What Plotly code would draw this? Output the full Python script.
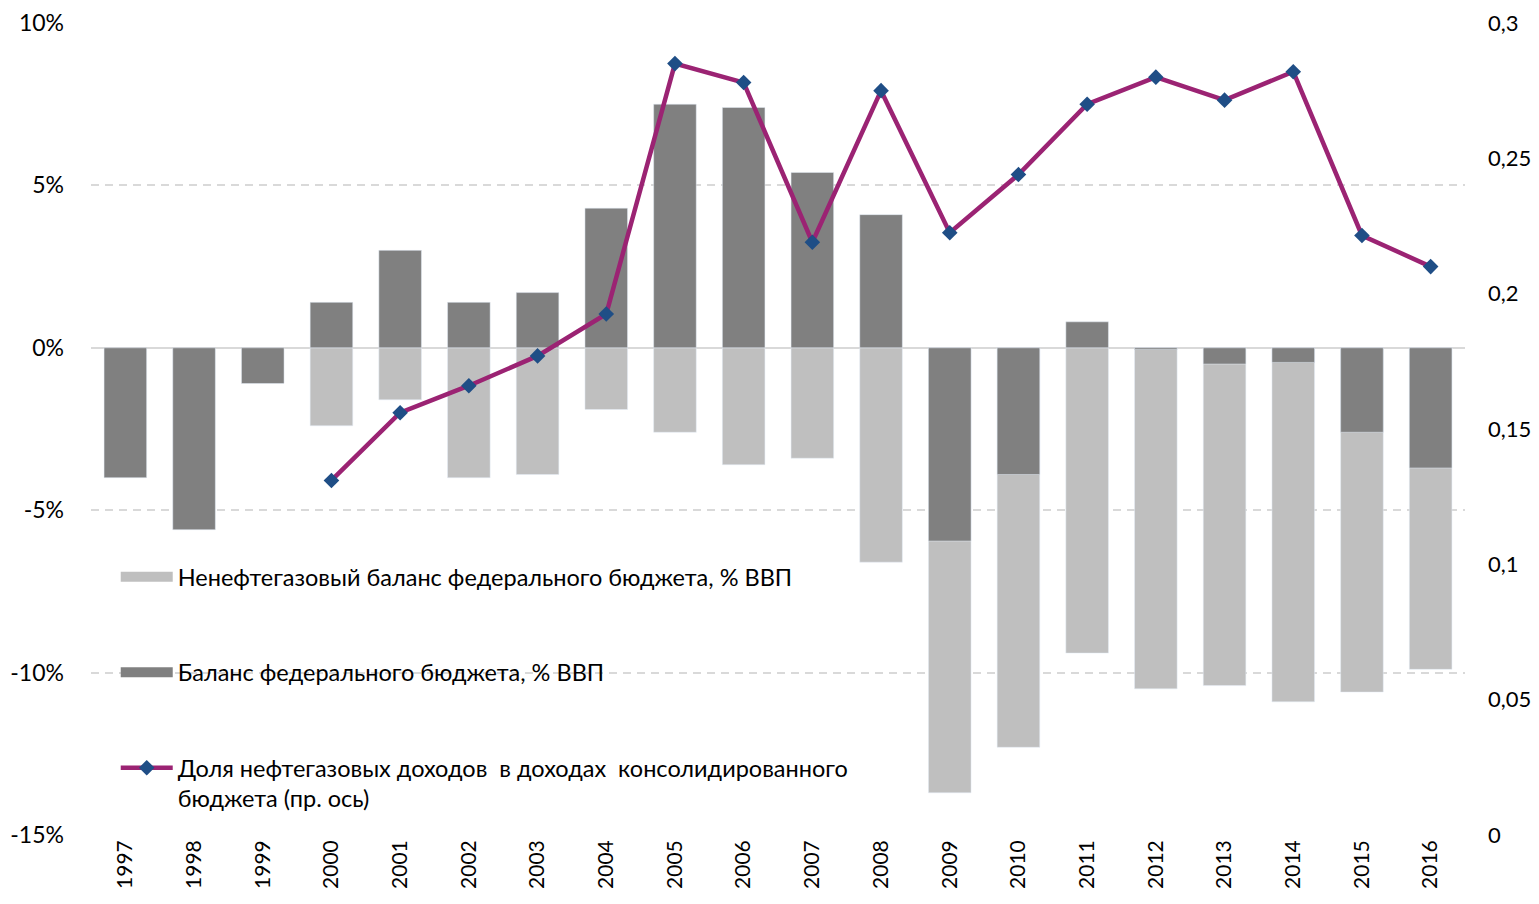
import plotly.graph_objects as go

years = [str(y) for y in range(1997, 2017)]
nonoil_balance = [None, None, None, -2.4, -1.6, -4.0, -3.9, -1.9, -2.6, -3.6,
                  -3.4, -6.6, -13.7, -12.3, -9.4, -10.5, -10.4, -10.9, -10.6, -9.9]
fed_balance = [-4.0, -5.6, -1.1, 1.4, 3.0, 1.4, 1.7, 4.3, 7.5, 7.4,
               5.4, 4.1, -5.95, -3.9, 0.8, -0.05, -0.5, -0.45, -2.6, -3.7]
oilgas_share = [None, None, None, 0.131, 0.156, 0.166, 0.177, 0.1925, 0.285, 0.278,
                0.219, 0.275, 0.2225, 0.244, 0.270, 0.280, 0.2715, 0.282, 0.2215, 0.210]

name_nonoil = "Ненефтегазовый баланс федерального бюджета, % ВВП"
name_fed = "Баланс федерального бюджета, % ВВП"
name_share = "Доля нефтегазовых доходов  в доходах  консолидированного<br>бюджета (пр. ось)"

left_ticks = [10, 5, 0, -5, -10, -15]
left_text = ["10%", "5%", "0%", "-5%", "-10%", "-15%"]
right_ticks = [0.3, 0.25, 0.2, 0.15, 0.1, 0.05, 0]
right_text = ["0,3", "0,25", "0,2", "0,15", "0,1", "0,05", "0"]

LIGHT = "#BFBFBF"
DARK = "#808080"
LINE = "#9B2373"
MARK = "#1F4E86"
FONT = "Lato"

fig = go.Figure()
fig.add_trace(go.Bar(x=years, y=nonoil_balance, marker_color=LIGHT, width=0.62,
                     showlegend=False, name=name_nonoil))
fig.add_trace(go.Bar(x=years, y=fed_balance, marker_color=DARK, width=0.62,
                     showlegend=False, name=name_fed))
fig.add_trace(go.Scatter(x=years, y=oilgas_share, yaxis="y2", mode="lines+markers",
                         line=dict(color=LINE, width=4.5),
                         marker=dict(symbol="diamond", size=12, color=MARK),
                         showlegend=False, name=name_share))

# legend entries
fig.add_trace(go.Scatter(x=[None], y=[None], mode="lines", line=dict(color=LIGHT, width=13),
                         name=name_nonoil, legendgroup="a"))
fig.add_trace(go.Scatter(x=[None], y=[None], mode="lines", line=dict(color=DARK, width=13),
                         name=name_fed, legendgroup="b"))
fig.add_trace(go.Scatter(x=[None], y=[None], yaxis="y2", mode="lines+markers",
                         line=dict(color=LINE, width=4.5),
                         marker=dict(symbol="diamond", size=12, color=MARK),
                         name=name_share, legendgroup="c"))

fig.update_layout(
    width=1531, height=896,
    margin=dict(l=83, r=74, t=15, b=69),
    paper_bgcolor="white", plot_bgcolor="white",
    barmode="overlay",
    font=dict(family=FONT, size=23, color="#000000"),
    xaxis=dict(type="category", tickangle=-90, tickfont=dict(size=21), automargin=False,
               showgrid=False, showline=False, ticks="", range=[-0.5, 19.5]),
    yaxis=dict(range=[-15, 10], tickvals=left_ticks, ticktext=left_text, automargin=False,
               showgrid=True, gridcolor="#D9D9D9", gridwidth=2, griddash="8px,6px",
               zeroline=True, zerolinecolor="#D9D9D9", zerolinewidth=2,
               showline=False, ticks="", ticklabelstandoff=26, layer="above traces"),
    yaxis2=dict(range=[0, 0.3], overlaying="y", side="right", automargin=False,
                tickvals=right_ticks, ticktext=right_text, tickfont=dict(size=22),
                showgrid=False, zeroline=False, showline=False, ticks="",
                ticklabelstandoff=22),
    legend=dict(x=0.018, y=0.345, xanchor="left", yanchor="top",
                bgcolor="rgba(0,0,0,0)", itemwidth=52, tracegroupgap=62,
                valign="top", font=dict(size=23.5)),
    showlegend=True,
)

fig.write_html("out.html")
